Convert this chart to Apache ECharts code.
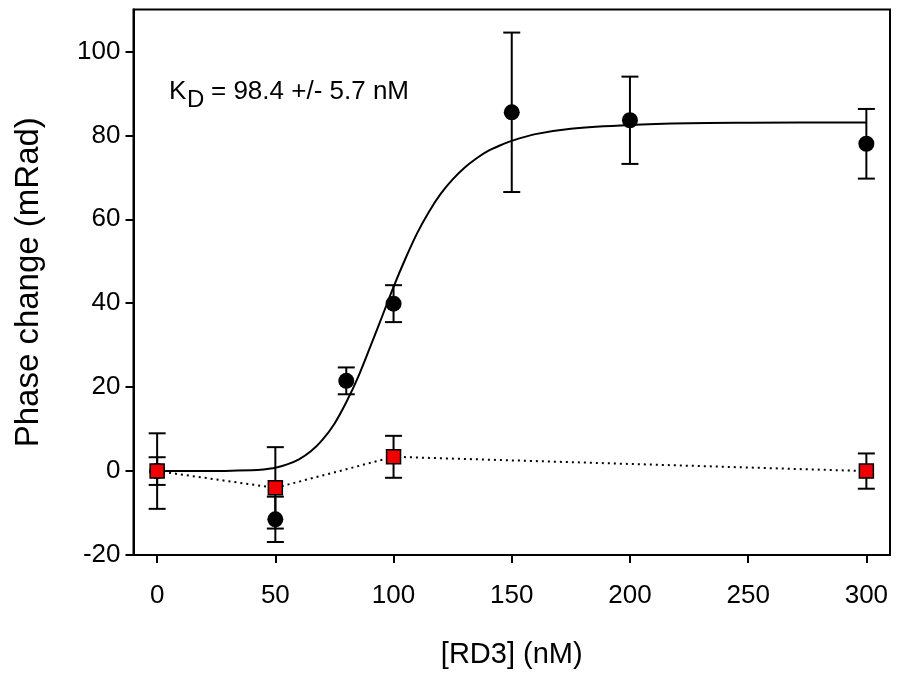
<!DOCTYPE html>
<html>
<head>
<meta charset="utf-8">
<script src="https://cdn.jsdelivr.net/npm/echarts@6/dist/echarts.min.js"></script>
<style>
  html, body { margin: 0; padding: 0; background: #fff; }
  #chart { width: 900px; height: 674px; }
</style>
</head>
<body>
<div id="chart"></div>
<script>
// [RD3] binding, black circles (fit to Hill curve)
const concBound = [0, 50, 80, 100, 150, 200, 300];
const phaseBound = [0, -11.5, 21.5, 39.9, 85.5, 83.6, 78.0];
const errBound = [9.0, 5.4, 3.2, 4.4, 19.0, 10.4, 8.3];

// control, red squares (dotted line)
const concCtrl = [0, 50, 100, 300];
const phaseCtrl = [0, -4.0, 3.4, 0];
const errCtrl = [3.3, 9.7, 5.0, 4.2];

// fitted curve
const fitConc = [0, 20, 40, 45, 50, 55, 60, 65, 70, 75, 80, 85, 90, 95, 100, 105, 110, 115, 120,
    125, 130, 135, 140, 145, 150, 160, 175, 200, 225, 250, 300];
const fitPhase = [0, 0, 0.2, 0.4, 0.8, 1.6, 2.8, 4.7, 7.5, 11.3, 16.4, 22.4, 29.4, 36.6, 43.9, 50.6, 56.7, 61.8, 66.1,
    69.5, 72.3, 74.5, 76.3, 77.6, 78.7, 80.3, 81.6, 82.5, 82.9, 83.0, 83.1];

const xTicks = [0, 50, 100, 150, 200, 250, 300];
const yTicks = [-20, 0, 20, 40, 60, 80, 100];

const FONT = "'Liberation Sans', Arial, sans-serif";

const zip = (xs, ys, es) => xs.map((x, i) => (es ? [x, ys[i], es[i]] : [x, ys[i]]));

// vertical error bar with caps
const errorBar = (params, api) => {
    const x = api.value(0), y = api.value(1), e = api.value(2);
    const top = api.coord([x, y + e]);
    const bot = api.coord([x, y - e]);
    const hw = 8.5;
    const style = { stroke: "#000", lineWidth: 2 };
    return {
        type: "group",
        children: [
            { type: "line", shape: { x1: top[0], y1: top[1], x2: bot[0], y2: bot[1] }, style },
            { type: "line", shape: { x1: top[0] - hw, y1: top[1], x2: top[0] + hw, y2: top[1] }, style },
            { type: "line", shape: { x1: bot[0] - hw, y1: bot[1], x2: bot[0] + hw, y2: bot[1] }, style },
        ],
    };
};

const chart = echarts.init(document.getElementById("chart"));

const axisCommon = {
    type: "value",
    axisLine: { show: true, onZero: false, lineStyle: { color: "#000", width: 2 } },
    axisTick: { show: true, inside: false, length: 8, lineStyle: { color: "#000", width: 2 } },
    splitLine: { show: false },
    nameLocation: "middle",
};

chart.setOption({
    animation: false,
    backgroundColor: "#fff",
    grid: {
        left: 133.5, right: 10, top: 9.5, bottom: 119,
        show: true, borderColor: "#000", borderWidth: 2,
    },
    xAxis: {
        ...axisCommon,
        min: -10, max: 310,
        name: "[RD3] (nM)",
        nameGap: 85,
        nameTextStyle: { color: "#000", fontSize: 29, fontFamily: FONT },
        axisTick: { ...axisCommon.axisTick, customValues: xTicks },
        axisLabel: { customValues: xTicks, color: "#000", fontSize: 26, fontFamily: FONT, margin: 28 },
    },
    yAxis: {
        ...axisCommon,
        min: -20, max: 110,
        name: "Phase change (mRad)",
        nameGap: 88,
        nameTextStyle: { color: "#000", fontSize: 33, fontFamily: FONT },
        axisTick: { ...axisCommon.axisTick, customValues: yTicks },
        axisLabel: { customValues: yTicks, color: "#000", fontSize: 26, fontFamily: FONT, margin: 13 },
    },
    graphic: [
        { type: "text", x: 169, y: 91.5, style: { text: "K", font: "26px " + FONT, fill: "#000", verticalAlign: "middle" } },
        { type: "text", x: 187, y: 100, style: { text: "D", font: "24px " + FONT, fill: "#000", verticalAlign: "middle" } },
        { type: "text", x: 211, y: 91.5, style: { text: "= 98.4 +/- 5.7 nM", font: "26px " + FONT, fill: "#000", verticalAlign: "middle" } },
    ],
    series: [
        {
            type: "custom", name: "err bound", renderItem: errorBar,
            data: zip(concBound, phaseBound, errBound), encode: { x: 0, y: 1 }, z: 2,
        },
        {
            type: "custom", name: "err ctrl", renderItem: errorBar,
            data: zip(concCtrl, phaseCtrl, errCtrl), encode: { x: 0, y: 1 }, z: 2,
        },
        {
            type: "line", name: "fit", data: zip(fitConc, fitPhase),
            smooth: 0.3, showSymbol: false, symbol: "none",
            lineStyle: { color: "#000", width: 2 }, z: 3,
        },
        {
            type: "line", name: "control", data: zip(concCtrl, phaseCtrl),
            symbol: "none", lineStyle: { color: "#000", width: 2, type: [2, 4] }, z: 3,
        },
        {
            type: "scatter", name: "bound", data: zip(concBound, phaseBound),
            symbol: "circle", symbolSize: 16, itemStyle: { color: "#000", opacity: 1 }, z: 4,
        },
        {
            type: "scatter", name: "control pts", data: zip(concCtrl, phaseCtrl),
            symbol: "rect", symbolSize: 14,
            itemStyle: { color: "#f00000", borderColor: "#000", borderWidth: 1.5, opacity: 1 }, z: 5,
        },
    ],
});
</script>
</body>
</html>
